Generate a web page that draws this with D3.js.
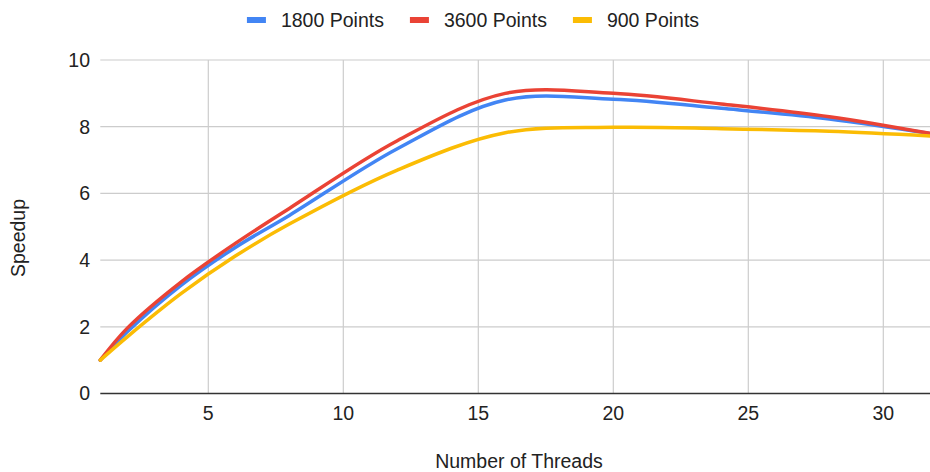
<!DOCTYPE html>
<html>
<head>
<meta charset="utf-8">
<script src="https://cdn.jsdelivr.net/npm/d3@7"></script>
<style>
  html, body { margin: 0; padding: 0; background: #fff; }
  svg { display: block; }
  text { font-family: "Liberation Sans", Arial, sans-serif; fill: #222; }
</style>
</head>
<body>
<svg id="chart" width="930" height="472"></svg>
<script>
const threads = [1, 2, 4, 6, 8, 12, 16, 20, 24, 28, 32];
const seriesNames = ["1800 Points", "3600 Points", "900 Points"];
const speedup1800 = [1, 1.85, 3.25, 4.38, 5.34, 7.34, 8.8, 8.82, 8.55, 8.23, 7.76];
const speedup3600 = [1, 1.96, 3.35, 4.5, 5.55, 7.58, 9.0, 9.0, 8.68, 8.3, 7.76];
const speedup900 = [1, 1.7, 3.0, 4.12, 5.08, 6.7, 7.82, 7.98, 7.94, 7.86, 7.71];
const seriesColors = ["#4285F4", "#EA4335", "#FBBC04"];
const xTicks = [5, 10, 15, 20, 25, 30];
const yTicks = [0, 2, 4, 6, 8, 10];
const xTitle = "Number of Threads";
const yTitle = "Speedup";

const seriesValues = [speedup1800, speedup3600, speedup900];

const W = 930, H = 472;
const svg = d3.select("#chart");
const fs = 19.5;

const x = d3.scaleLinear().domain([1, 32]).range([100.3, 937.3]);
const y = d3.scaleLinear().domain([0, 10]).range([393.5, 60]);
const plotRight = W;

// horizontal gridlines
svg.append("g").selectAll("line").data(yTicks.filter(d => d !== 0)).join("line")
  .attr("x1", x(1)).attr("x2", plotRight)
  .attr("y1", d => y(d)).attr("y2", d => y(d))
  .attr("stroke", "#cccccc").attr("stroke-width", 1.2);

// vertical gridlines
svg.append("g").selectAll("line").data(xTicks).join("line")
  .attr("x1", d => x(d)).attr("x2", d => x(d))
  .attr("y1", y(10)).attr("y2", y(0))
  .attr("stroke", "#cccccc").attr("stroke-width", 1.2);

// y tick labels
svg.append("g").selectAll("text").data(yTicks).join("text")
  .attr("x", 90).attr("y", d => y(d))
  .attr("dy", "0.35em")
  .attr("text-anchor", "end")
  .attr("font-size", fs)
  .text(d => d);

// x tick labels
svg.append("g").selectAll("text").data(xTicks).join("text")
  .attr("x", d => x(d)).attr("y", 419.5)
  .attr("text-anchor", "middle")
  .attr("font-size", fs)
  .text(d => d);

// baseline
svg.append("line")
  .attr("x1", x(1)).attr("x2", plotRight)
  .attr("y1", y(0)).attr("y2", y(0))
  .attr("stroke", "#333").attr("stroke-width", 1.5);

// lines
const line = d3.line()
  .x((d, i) => x(threads[i]))
  .y(d => y(d))
  .curve(d3.curveCatmullRom.alpha(0.5));

svg.append("g").selectAll("path").data(seriesValues).join("path")
  .attr("d", d => line(d))
  .attr("fill", "none")
  .attr("stroke", (d, i) => seriesColors[i])
  .attr("stroke-width", 3.5)
  .attr("stroke-linejoin", "round")
  .attr("stroke-linecap", "round");

// axis titles
svg.append("text")
  .attr("x", 519).attr("y", 468)
  .attr("text-anchor", "middle")
  .attr("font-size", fs)
  .text(xTitle);

svg.append("text")
  .attr("transform", "translate(25,238) rotate(-90)")
  .attr("text-anchor", "middle")
  .attr("font-size", fs)
  .text(yTitle);

// legend
const legend = svg.append("g");
let cx = 0;
seriesNames.forEach((name, i) => {
  const g = legend.append("g").attr("transform", `translate(${cx},0)`);
  g.append("rect").attr("x", 0).attr("y", 17).attr("width", 19).attr("height", 6)
    .attr("fill", seriesColors[i]);
  const t = g.append("text").attr("x", 34).attr("y", 26.5)
    .attr("font-size", fs).text(name);
  const w = t.node().getComputedTextLength();
  cx += 34 + w + 26;
});
const totalW = cx - 26;
legend.attr("transform", `translate(${473 - totalW / 2},0)`);
</script>
</body>
</html>
